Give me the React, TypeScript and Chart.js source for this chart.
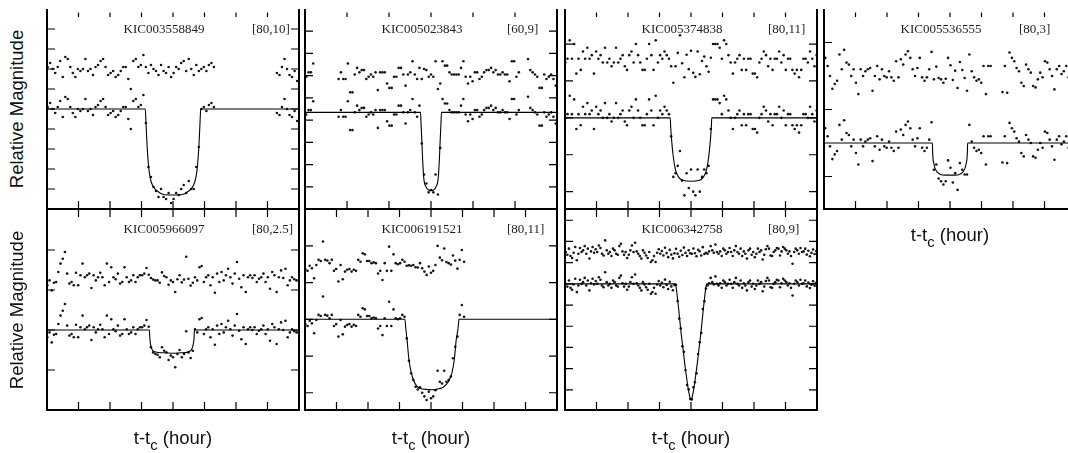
import React, { useEffect, useRef } from "react";
import { Chart, registerables } from "chart.js";
Chart.register(...registerables);

// ---------------- Panel 1 : KIC003558849 ----------------
const P1_NAME = "KIC003558849";
const P1_TAG = "[80,10]";
const P1_T0 = -3.98;
const P1_DT = 0.08;
const P1_FLUX = [
  -1, -3, 0, 2, -1, -4, 4, -6, -5, -1,
  2, 4, 0, 1, 0, -5, 1, 0, 3, -1,
  -2, -4, -5, -1, 3, 2, 1, 4, 3, 1,
  -1, -1, 5, 10, -4, -5, -1, -2, -7,
  7, 29, 34, 39, 41, 44, 40, 44, 45, 42, 47, 45, 42, 43, 40, 38, 42, 36, 40, 40, 29, 19,
  0, -1, 1, -2, -3, -1,
  null, null, null, null, null, null, null, null, null, null, null, null,
  null, null, null, null, null, null, null, null, null, null, null, null,
  2, 3, -1, -5, 0, 3, 4, 1, 6,
];
const P1_RESID = [
  -1, -3, 0, 2, -1, -4, 4, -6, -5, -1,
  2, 4, 0, 1, 0, -5, 1, 0, 3, -1,
  -2, -4, -5, -1, 3, 2, 1, 4, 3, 1,
  -1, -1, 5, 10, -4, -5, -1, -2, -7,
  -1, 2, -2, 0, 1, 3, -2, 1, 2, -1, 4, 2, -1, 0, -3, -4, 1, -5, 0, 3, -2, 1,
  0, -1, 1, -2, -3, -1,
  null, null, null, null, null, null, null, null, null, null, null, null,
  null, null, null, null, null, null, null, null, null, null, null, null,
  2, 3, -1, -5, 0, 3, 4, 1, 6,
];
const P1_MODEL_T = [-4, -0.88, -0.86, -0.84, -0.82, -0.79, -0.75, -0.7, -0.62, -0.5, -0.35, -0.15, 0, 0.15, 0.35, 0.5, 0.62, 0.7, 0.75, 0.79, 0.82, 0.84, 0.86, 0.88, 4];
const P1_MODEL_Y = [0, 0, 6, 13, 19, 26, 32, 36, 39, 41, 42.5, 43, 43, 43, 42.5, 41, 39, 36, 32, 26, 19, 13, 6, 0, 0];
const P1_X_TICKS = [-3, -2, -1, 0, 1, 2, 3];
const P1_Y_TICKS = [-40, -30, -20, -10, 0, 10, 20, 30, 40];

// ---------------- Panel 2 : KIC005023843 ----------------
const P2_NAME = "KIC005023843";
const P2_TAG = "[60,9]";
const P2_T0 = -2.97;
const P2_DT = 0.055;
const P2_FLUX = [
  1, -1, -1, -5,
  null, null, null, null, null, null, null, null, null, null,
  2, -1, 2, 2, -5, 8, 8, 0, -3, -1,
  -2, -2, 2, 1, 0, 1, -1, 7, -1, -1,
  -1, 4, 6, 6, 1, 1, -3, -3, 0, 5,
  0, -1, -6, 0, 2, -3,
  14, 28, 32, 36, 35, 36, 28, 37, 16,
  -6, -4, -4, -1, 0, 0, 0, 0, -3, -6,
  1, 4, 1, 3, -1, -1, 2, 1, -1, -2,
  -2, -3, -1, -2, 0, 0, -1, 0, 0, 3,
  -6, -6, 1, -1,
  null, null, null,
  -7, -2, -1, 0, 1, 6, 6, 0, 2, 1, 0, 2, 5,
];
const P2_RESID = [
  1, -1, -1, -5,
  null, null, null, null, null, null, null, null, null, null,
  2, -1, 2, 2, -5, 8, 8, 0, -3, -1,
  -2, -2, 2, 1, 0, 1, -1, 7, -1, -1,
  -1, 4, 6, 6, 1, 1, -3, -3, 0, 5,
  0, -1, -6, 0, 2, -3,
  2, -2.5, -2, 1, 0, 1, -6, 6.5, 4,
  -6, -4, -4, -1, 0, 0, 0, 0, -3, -6,
  1, 4, 1, 3, -1, -1, 2, 1, -1, -2,
  -2, -3, -1, -2, 0, 0, -1, 0, 0, 3,
  -6, -6, 1, -1,
  null, null, null,
  -7, -2, -1, 0, 1, 6, 6, 0, 2, 1, 0, 2, 5,
];
const P2_MODEL_T = [-3, -0.25, -0.235, -0.22, -0.2, -0.17, -0.12, -0.06, 0, 0.06, 0.12, 0.17, 0.2, 0.22, 0.235, 0.25, 3];
const P2_MODEL_Y = [0, 0, 6, 12, 21, 30, 33.5, 35, 35.2, 35, 33.5, 30, 21, 12, 6, 0, 0];
const P2_X_TICKS = [-2, -1, 0, 1, 2];
const P2_Y_TICKS = [-36.5, -26.5, -16.5, -6.5, 3.5, 13.5, 23.5, 33.5];

// ---------------- Panel 3 : KIC005374838 ----------------
const P3_NAME = "KIC005374838";
const P3_TAG = "[80,11]";
const P3_T0 = -3.99;
const P3_DT = 0.07;
const P3_FLUX = [
  0, -1, -6, -1, -5, 3, -1, 2, -3, -1,
  -4, -1, -2, 3, -3, -1, -2, 0, -4, 0,
  -1, 1, 0, -4, 0, -1, -2, 1, 2, -2,
  -3, 0, -5, -2, 0, 2, 2, -1, -5, -2,
  2, -6, 0, -2, -1, -3, -2, -1,
  5, 16, 15, 13, 9, 17, 21, 15, 19, 14, 20, 21, 14, 20, 16, 14, 15, 13, 3,
  -5, -5, -5, -4, -1, -6, -5, -2, 0, 3,
  0, -1, -2, 2, -1, 2, -1, -1, 3, 3,
  4, 0, -1, -3, -2, 1, -1, 2, -1, -1,
  -3, 0, -2, 2, -1, -1, 2, 3, 2, 4,
  2, -1, -1, 0, -3, -1, 1, -2,
];
const P3_RESID = [
  0, -1, -6, -1, -5, 3, -1, 2, -3, -1,
  -4, -1, -2, 3, -3, -1, -2, 0, -4, 0,
  -1, 1, 0, -4, 0, -1, -2, 1, 2, -2,
  -3, 0, -5, -2, 0, 2, 2, -1, -5, -2,
  2, -6, 0, -2, -1, -3, -2, -1,
  1, 5.5, 1, -2.6, -7.4, 0.2, 4, -2.1, 1.8, -3.2, 2.8, 3.9, -3, 3.2, -0.4, -1.6, 1, 2.5, -1.3,
  -5, -5, -5, -4, -1, -6, -5, -2, 0, 3,
  0, -1, -2, 2, -1, 2, -1, -1, 3, 3,
  4, 0, -1, -3, -2, 1, -1, 2, -1, -1,
  -3, 0, -2, 2, -1, -1, 2, 3, 2, 4,
  2, -1, -1, 0, -3, -1, 1, -2,
];
const P3_MODEL_T = [-4, -0.66, -0.645, -0.62, -0.57, -0.5, -0.4, -0.24, 0, 0.24, 0.4, 0.5, 0.57, 0.62, 0.645, 0.66, 4];
const P3_MODEL_Y = [0, 0, 2.5, 5.5, 10, 13.8, 16, 17, 17.2, 17, 16, 13.8, 10, 5.5, 2.5, 0, 0];
const P3_X_TICKS = [-3, -2, -1, 0, 1, 2, 3];
const P3_Y_TICKS = [-20, -10, 0, 10, 20];

// ---------------- Panel 4 : KIC005536555 ----------------
const P4_NAME = "KIC005536555";
const P4_TAG = "[80,3]";
const P4_T0 = -3.96;
const P4_DT = 0.075;
const P4_FLUX = [
  -2.2, -1, 0.5, 2.4, 1.7, 1.2, -2.7, -0.5, -3.4, -1.5,
  -1.2, 0.5, -0.5, 1.5, 3.2, -0.5, 0.5, -0.2, -0.5, -0.7,
  2.7, 0.5, -1, 1, -0.5, 0.5, 0.7, -0.2, 0.7, 1.2,
  -1.7, 0.7, -2, -1.2, -2.7, -3.2, -2.2, -0.5, 0.5, -0.7,
  -2.2, 0.7, 1.2, 0.7, -0.5, -3.1,
  4, 3.2, 5.3, 5.7, 6.2, 5.7, 2.6, 3.7, 5.9, 4.5, 7, 3, 4, 4.7, 4.7,
  -2.7, -0.2, 0.7, 1.2, 1, 1.5, -1, 3.2, -1, -1,
  null, null, null, null,
  2.9, -1, 3, -3, -2.2, -1.7, -0.7, -0.2, 1.5, 2,
  -1.2, -0.5, 0, 2, 2.2, 1, 0, 0.7, -1.7, -1.5,
  -0.5, 0.5, 2.5, -0.5, -1, 0.2, -0.2, -1, 0.7, 0, -0.5,
];
const P4_RESID = [
  -2.2, -1, 0.5, 2.4, 1.7, 1.2, -2.7, -0.5, -3.4, -1.5,
  -1.2, 0.5, -0.5, 1.5, 3.2, -0.5, 0.5, -0.2, -0.5, -0.7,
  2.7, 0.5, -1, 1, -0.5, 0.5, 0.7, -0.2, 0.7, 1.2,
  -1.7, 0.7, -2, -1.2, -2.7, -3.2, -2.2, -0.5, 0.5, -0.7,
  -2.2, 0.7, 1.2, 0.7, -0.5, -3.1,
  1, -0.9, 0.8, 1, 1.5, 0.9, -2.2, -1.1, 1.1, -0.3, 2.3, -1.6, -0.4, 0.8, 2.7,
  -2.7, -0.2, 0.7, 1.2, 1, 1.5, -1, 3.2, -1, -1,
  null, null, null, null,
  2.9, -1, 3, -3, -2.2, -1.7, -0.7, -0.2, 1.5, 2,
  -1.2, -0.5, 0, 2, 2.2, 1, 0, 0.7, -1.7, -1.5,
  -0.5, 0.5, 2.5, -0.5, -1, 0.2, -0.2, -1, 0.7, 0, -0.5,
];
const P4_MODEL_T = [-4, -0.56, -0.553, -0.54, -0.51, -0.48, -0.44, -0.4, -0.3, -0.15, 0, 0.15, 0.3, 0.4, 0.44, 0.48, 0.51, 0.54, 0.553, 0.56, 4];
const P4_MODEL_Y = [0, 0, 1.2, 2.3, 3.1, 3.7, 4.1, 4.4, 4.7, 4.8, 4.8, 4.8, 4.7, 4.4, 4.1, 3.7, 3.1, 2.3, 1.2, 0, 0];
const P4_X_TICKS = [-3, -2, -1, 0, 1, 2, 3];
const P4_Y_TICKS = [-15, -5, 5];

// ---------------- Panel 5 : KIC005966097 ----------------
const P5_NAME = "KIC005966097";
const P5_TAG = "[80,2.5]";
const P5_T0 = -3.99;
const P5_DT = 0.07;
const P5_FLUX = [
  1.8, 0.6, 3.1, 1.2, 1, -1.5, -3.6, -4.8, -6.5, -1.1,
  1.4, 1, 1.8, -1.3, 1.8, -0.7, -3.6, -0.2, -0.7, -1.1,
  2.5, -0.7, 0.6, -0.2, -1.3, -0.2, 1.8, -3.6, 1, -2.7,
  -0.2, 0.3, -1.1, 1.4, 1, -2.7, -0.2, 1, 0.6, -0.7,
  1, -0.2, -0.7, -0.7, -1.1, -2.5, -0.8,
  4.3, 5.6, 6, 6.2, 6.8, 4.3, 5.2, 5.6, 7.5, 6.4, 6.8, 9.3, 6, 5, 6.8, 6, 0.3, 5.6, 7, 5.2,
  -0.2, 0.6, -2.7, -3, 1, -0.2, -0.7, 1.8, -0.2, 3.7,
  -1.1, 1, -1.5, 0.6, -0.7, -2.3, -0.2, 1.4, -1.1, -4,
  0.2, 2.3, -0.7, 3.5, -0.2, -0.7, 0, -0.7, 1, 0.2,
  -0.2, -1.1, 1, -0.2, 2.7, -1.5, -0.7, 3.5, -0.2, -1.9,
  0, -2.3, 1.8, 0.6, -0.2, 0.3, 0.6, 0.6,
];
const P5_RESID = [
  1.8, 0.6, 3.1, 1.2, 1, -1.5, -3.6, -4.8, -6.5, -1.1,
  1.4, 1, 1.8, -1.3, 1.8, -0.7, -3.6, -0.2, -0.7, -1.1,
  2.5, -0.7, 0.6, -0.2, -1.3, -0.2, 1.8, -3.6, 1, -2.7,
  -0.2, 0.3, -1.1, 1.4, 1, -2.7, -0.2, 1, 0.6, -0.7,
  1, -0.2, -0.7, -0.7, -1.1, -2.5, -0.8,
  0, 0.4, 0.6, 0.6, 1.2, -1.4, -0.5, -0.2, 1.7, 0.6, 1, 3.5, 0.3, -0.7, 1.1, 0.4, -5.3, 0.2, 1.9, 1.2,
  -0.2, 0.6, -2.7, -3, 1, -0.2, -0.7, 1.8, -0.2, 3.7,
  -1.1, 1, -1.5, 0.6, -0.7, -2.3, -0.2, 1.4, -1.1, -4,
  0.2, 2.3, -0.7, 3.5, -0.2, -0.7, 0, -0.7, 1, 0.2,
  -0.2, -1.1, 1, -0.2, 2.7, -1.5, -0.7, 3.5, -0.2, -1.9,
  0, -2.3, 1.8, 0.6, -0.2, 0.3, 0.6, 0.6,
];
const P5_MODEL_T = [-4, -0.75, -0.74, -0.73, -0.71, -0.68, -0.64, -0.55, -0.3, -0.03, 0.25, 0.44, 0.53, 0.58, 0.62, 0.65, 0.67, 0.68, 4];
const P5_MODEL_Y = [0, 0, 1.3, 2.5, 3.7, 4.6, 5.2, 5.5, 5.7, 5.8, 5.7, 5.6, 5.3, 5.0, 4.3, 3.3, 1.8, 0, 0];
const P5_X_TICKS = [-3, -2, -1, 0, 1, 2, 3];
const P5_Y_TICKS = [-20, -10, 0, 10];

// ---------------- Panel 6 : KIC006191521 ----------------
const P6_NAME = "KIC006191521";
const P6_TAG = "[80,11]";
const P6_T0 = -3.99;
const P6_DT = 0.07;
const P6_FLUX = [
  1.3, 1.8, 0.4, 1.1, 3.8, 0.2, -1.2, -0.9, -6.2, -1.2,
  -1, -0.3, -1.2, 1.8, 1.3, 4.7, 0.2, 4.1, 2, 1.5,
  1.3, 2, 1.5, 1.8, -1.2, -0.7, -3, -2.7, -0.9, -0.9,
  -0.3, -0.5, -0.3, 2.5, 1.8, 4.3, -0.3, 1.8, -4.8, 1.8,
  -2.7, -0.3, 0, -0.3, -1.2, -0.7,
  5.2, 11.3, 14.7, 16.5, 18.4, 19.1, 18.5, 20, 21, 22, 19.7, 21.5, 21, 19.3, 14, 17, 17.5, 14, 17, 16.5, 15.6, 10.6, 7.5, 4.7,
  -1.2, -3.9, -0.7,
];
const P6_RESID = [
  1.3, 1.8, 0.4, 1.1, 3.8, 0.2, -1.2, -0.9, -6.2, -1.2,
  -1, -0.3, -1.2, 1.8, 1.3, 4.7, 0.2, 4.1, 2, 1.5,
  1.3, 2, 1.5, 1.8, -1.2, -0.7, -3, -2.7, -0.9, -0.9,
  -0.3, -0.5, -0.3, 2.5, 1.8, 4.3, -0.3, 1.8, -4.8, 1.8,
  -2.7, -0.3, 0, -0.3, -1.2, -0.7,
  0.4, 0.3, 0.4, 0.2, 0.8, 0.9, -0.3, 1.1, 2, 2.9, 0.6, 2.3, 1.8, 0.2, -5, -1.8, -1.1, -4.3, -0.6, -0.3, 0.1, -2.4, -1, 1.2,
  -1.2, -3.9, -0.7,
];
const P6_MODEL_T = [-4, -0.83, -0.8, -0.76, -0.7, -0.62, -0.52, -0.36, -0.1, 0.05, 0.2, 0.39, 0.55, 0.66, 0.74, 0.8, 0.85, 0.87, 0.89, 4];
const P6_MODEL_Y = [0, 0, 2.5, 5.6, 11, 14.7, 17.3, 18.8, 19.1, 19.2, 19.0, 18.5, 17, 14.7, 11, 5.6, 3, 1.5, 0, 0];
const P6_X_TICKS = [-3, -2, -1, 0, 1, 2, 3];
const P6_Y_TICKS = [-20, -10, 0, 10, 20];

// ---------------- Panel 7 : KIC006342758 ----------------
const P7_NAME = "KIC006342758";
const P7_TAG = "[80,9]";
const P7_T0 = -3.975;
const P7_DT = 0.05;
const P7_FLUX = [
  0, 1.3, -1.6, 1.9, 2.8, 0.3, -2.4, 3.9, 0.8, -1.9,
  0, -0.8, -2.8, 0.8, -1.6, 3.1, -0.3, -2.4, 0.3, -1.3,
  0, -3.1, -1.9, 0.8, 1.6, -5.5, -0.8, 0.8, 0, 1.9,
  -1.6, -0.8, 0.8, 1.3, -2.8, -3.9, -0.3, 1.3, 0, 2.8,
  1.3, -0.8, -3.1, 0, -4.4, -0.3, 0.8, 1.9, 3.1, -0.8,
  0.3, 1.6, 2.8, 0, 4.7, 3.9, 1.9, 4.7, 0.3, -1.3,
  0.8, -0.5, 1.6, -2, 0.5, 2.4, -1, 1.2, 3, 0.6,
  0.4, 8.1, 16.4, 21, 29.4, 32.1, 40.6, 47.7, 49.7, 54.3,
  54.5, 48.8, 46.4, 42.2, 33.1, 27.6, 23.2, 11.9, 8.2, 2.2,
  0.8, -0.3, -2.8, -0.8, 0.3, -3.5, 0, 0.8, -0.3, 1.9,
  -1.6, -0.8, 0.8, 0, -1.9, 0, 1.9, -0.8, -2.8, 0,
  0.8, -1.6, 1.9, -0.3, 0.8, 3.1, -0.8, -1.6, 1.3, 0,
  2.4, 0.8, -1.6, 0, -0.8, 3.5, 1.3, -1.3, -2.8, -1.6,
  1.6, 1.9, 0, -0.8, -1.9, -1.6, 1.6, -0.3, -2.4, -1.6,
  -0.8, 0.8, -0.3, 1.9, 5.5, 0, -1.6, -0.8, 0.8, -1.9,
  0, -0.3, -1.6, 1.2, -0.6, 2, 0.4, -1.2, 0.9, -0.5,
];
const P7_RESID = [
  0, 1.3, -1.6, 1.9, 2.8, 0.3, -2.4, 3.9, 0.8, -1.9,
  0, -0.8, -2.8, 0.8, -1.6, 3.1, -0.3, -2.4, 0.3, -1.3,
  0, -3.1, -1.9, 0.8, 1.6, -5.5, -0.8, 0.8, 0, 1.9,
  -1.6, -0.8, 0.8, 1.3, -2.8, -3.9, -0.3, 1.3, 0, 2.8,
  1.3, -0.8, -3.1, 0, -4.4, -0.3, 0.8, 1.9, 3.1, -0.8,
  0.3, 1.6, 2.8, 0, 4.7, 3.9, 1.9, 4.7, 0.3, -1.3,
  0.8, -0.5, 1.6, -2, 0.5, 2.4, -1, 1.2, 3, 0.6,
  -1.5, 0.8, 2.2, -0.6, 1.4, -2.1, 0.4, 1.9, -0.8, 0.6,
  0.8, -1.7, 0.6, 2.0, -1.1, -0.4, 1.6, -2.3, 0.9, 0.3,
  0.8, -0.3, -2.8, -0.8, 0.3, -3.5, 0, 0.8, -0.3, 1.9,
  -1.6, -0.8, 0.8, 0, -1.9, 0, 1.9, -0.8, -2.8, 0,
  0.8, -1.6, 1.9, -0.3, 0.8, 3.1, -0.8, -1.6, 1.3, 0,
  2.4, 0.8, -1.6, 0, -0.8, 3.5, 1.3, -1.3, -2.8, -1.6,
  1.6, 1.9, 0, -0.8, -1.9, -1.6, 1.6, -0.3, -2.4, -1.6,
  -0.8, 0.8, -0.3, 1.9, 5.5, 0, -1.6, -0.8, 0.8, -1.9,
  0, -0.3, -1.6, 1.2, -0.6, 2, 0.4, -1.2, 0.9, -0.5,
];
const P7_MODEL_T = [-4, -0.5, -0.46, -0.42, -0.38, -0.34, -0.3, -0.25, -0.2, -0.15, -0.1, -0.05, 0, 0.05, 0.1, 0.15, 0.2, 0.25, 0.3, 0.34, 0.38, 0.42, 0.46, 0.5, 4];
const P7_MODEL_Y = [0, 0, 3, 8, 13.5, 19.5, 25, 31, 37.5, 43, 48.5, 52.5, 54.8, 52.5, 48.5, 43, 37.5, 31, 25, 19.5, 13.5, 8, 3, 0, 0];
const P7_X_TICKS = [-3, -2, -1, 0, 1, 2, 3];
const P7_Y_TICKS = [-30, -20, -10, 0, 10, 20, 30, 40, 50];

// ---------------- layout & styling ----------------
const PAD = 4;
const TICK = 8;
const DOT = "#161616";

const PANELS = [
  { name: P1_NAME, tag: P1_TAG, t0: P1_T0, dt: P1_DT, flux: P1_FLUX, resid: P1_RESID, offset: -20, mt: P1_MODEL_T, my: P1_MODEL_Y, xt: P1_X_TICKS, yt: P1_Y_TICKS, xMin: -4, xMax: 4, yMin: -50, yMax: 50, left: 47, top: 9, w: 252, h: 200, topBorder: false, tagX: 205 },
  { name: P2_NAME, tag: P2_TAG, t0: P2_T0, dt: P2_DT, flux: P2_FLUX, resid: P2_RESID, offset: -17, mt: P2_MODEL_T, my: P2_MODEL_Y, xt: P2_X_TICKS, yt: P2_Y_TICKS, xMin: -3, xMax: 3, yMin: -46.5, yMax: 43.5, left: 305, top: 9, w: 252, h: 200, topBorder: false, tagX: 202 },
  { name: P3_NAME, tag: P3_TAG, t0: P3_T0, dt: P3_DT, flux: P3_FLUX, resid: P3_RESID, offset: -15, mt: P3_MODEL_T, my: P3_MODEL_Y, xt: P3_X_TICKS, yt: P3_Y_TICKS, xMin: -4, xMax: 4, yMin: -29.5, yMax: 24.7, left: 565, top: 9, w: 252, h: 200, topBorder: false, tagX: 203 },
  { name: P4_NAME, tag: P4_TAG, t0: P4_T0, dt: P4_DT, flux: P4_FLUX, resid: P4_RESID, offset: -10.5, mt: P4_MODEL_T, my: P4_MODEL_Y, xt: P4_X_TICKS, yt: P4_Y_TICKS, xMin: -4, xMax: 4, yMin: -20, yMax: 9.85, left: 824, top: 9, w: 252, h: 200, topBorder: false, tagX: 195 },
  { name: P5_NAME, tag: P5_TAG, t0: P5_T0, dt: P5_DT, flux: P5_FLUX, resid: P5_RESID, offset: -13, mt: P5_MODEL_T, my: P5_MODEL_Y, xt: P5_X_TICKS, yt: P5_Y_TICKS, xMin: -4, xMax: 4, yMin: -30.25, yMax: 20, left: 47, top: 209, w: 252, h: 201, topBorder: true, tagX: 205 },
  { name: P6_NAME, tag: P6_TAG, t0: P6_T0, dt: P6_DT, flux: P6_FLUX, resid: P6_RESID, offset: -15, mt: P6_MODEL_T, my: P6_MODEL_Y, xt: P6_X_TICKS, yt: P6_Y_TICKS, xMin: -4, xMax: 4, yMin: -30.05, yMax: 24.7, left: 305, top: 209, w: 252, h: 201, topBorder: true, tagX: 202 },
  { name: P7_NAME, tag: P7_TAG, t0: P7_T0, dt: P7_DT, flux: P7_FLUX, resid: P7_RESID, offset: -15, mt: P7_MODEL_T, my: P7_MODEL_Y, xt: P7_X_TICKS, yt: P7_Y_TICKS, xMin: -4, xMax: 4, yMin: -35.3, yMax: 59.5, left: 565, top: 209, w: 252, h: 201, topBorder: true, tagX: 203 },
];

const Y_TITLES = [
  { cx: 16.5, cy: 109 },
  { cx: 16.5, cy: 310 },
];
const X_TITLES = [
  { cx: 950, base: 242 },
  { cx: 173, base: 445 },
  { cx: 431, base: 445 },
  { cx: 691, base: 445 },
];

function makeFrame(cfg: any) {
  return {
    id: "frame",
    afterDraw(chart: any) {
      const { ctx, chartArea: a, scales } = chart;
      const xs = scales.x;
      const ys = scales.y;
      ctx.save();
      ctx.strokeStyle = "#000";
      ctx.lineWidth = 1.2;
      ctx.beginPath();
      for (const v of cfg.xt) {
        const px = xs.getPixelForValue(v);
        ctx.moveTo(px, a.bottom);
        ctx.lineTo(px, a.bottom - TICK);
        ctx.moveTo(px, a.top + (cfg.topBorder ? 0 : 3.5));
        ctx.lineTo(px, a.top + TICK);
      }
      for (const v of cfg.yt) {
        const py = ys.getPixelForValue(v);
        ctx.moveTo(a.left, py);
        ctx.lineTo(a.left + TICK, py);
        ctx.moveTo(a.right, py);
        ctx.lineTo(a.right - TICK, py);
      }
      ctx.stroke();
      ctx.lineWidth = 2;
      ctx.beginPath();
      ctx.moveTo(a.left, a.top);
      ctx.lineTo(a.left, a.bottom);
      ctx.lineTo(a.right, a.bottom);
      ctx.lineTo(a.right, a.top);
      if (cfg.topBorder) ctx.closePath();
      ctx.stroke();
      ctx.fillStyle = "#1e1e1e";
      ctx.font = '13px "Liberation Serif", "Times New Roman", serif';
      ctx.textBaseline = "alphabetic";
      ctx.textAlign = "left";
      ctx.fillText(cfg.name, a.left + 76.5, a.top + 24);
      ctx.fillText(cfg.tag, a.left + cfg.tagX, a.top + 24);
      ctx.restore();
    },
  };
}

function Panel({ cfg }: { cfg: any }) {
  const ref = useRef<HTMLCanvasElement | null>(null);
  useEffect(() => {
    const canvas = ref.current;
    if (!canvas) return;
    const lower: any[] = [];
    const upper: any[] = [];
    cfg.flux.forEach((v: number | null, i: number) => {
      if (v !== null) lower.push({ x: cfg.t0 + i * cfg.dt, y: v });
    });
    cfg.resid.forEach((v: number | null, i: number) => {
      if (v !== null) upper.push({ x: cfg.t0 + i * cfg.dt, y: v + cfg.offset });
    });
    const model = cfg.mt.map((t: number, i: number) => ({ x: t, y: cfg.my[i] }));
    const dotStyle = {
      showLine: false,
      pointRadius: 1.3,
      pointHoverRadius: 0,
      pointBorderWidth: 0,
      pointBackgroundColor: DOT,
      borderColor: DOT,
    };
    const chart = new Chart(canvas, {
      type: "scatter",
      data: {
        datasets: [
          { data: model, showLine: true, borderColor: "#000", borderWidth: 1.1, pointRadius: 0, fill: false, cubicInterpolationMode: "monotone" },
          { data: lower, ...dotStyle },
          { data: upper, ...dotStyle },
        ],
      },
      options: {
        animation: false,
        responsive: false,
        maintainAspectRatio: false,
        events: [],
        layout: { padding: PAD },
        plugins: { legend: { display: false }, tooltip: { enabled: false }, title: { display: false } },
        scales: {
          x: { type: "linear", min: cfg.xMin, max: cfg.xMax, display: false },
          y: { type: "linear", min: cfg.yMin, max: cfg.yMax, reverse: true, display: false },
        },
      },
      plugins: [makeFrame(cfg)],
    } as any);
    return () => chart.destroy();
  }, [cfg]);
  const W = cfg.w + 2 * PAD;
  const H = cfg.h + 2 * PAD;
  return (
    <canvas
      ref={ref}
      width={W}
      height={H}
      style={{ position: "absolute", left: cfg.left - PAD, top: cfg.top - PAD, width: W, height: H }}
    />
  );
}

const SANS = '"Liberation Sans", Arial, Helvetica, sans-serif';

export default function App() {
  return (
    <div style={{ position: "absolute", left: 0, top: 0, width: 1068, height: 453, overflow: "hidden", background: "#fff" }}>
      {PANELS.map((p) => (
        <Panel key={p.name} cfg={p} />
      ))}
      {Y_TITLES.map((t, i) => (
        <div
          key={"y" + i}
          style={{
            position: "absolute",
            left: t.cx - 110,
            top: t.cy - 12,
            width: 220,
            height: 24,
            lineHeight: "24px",
            textAlign: "center",
            fontFamily: SANS,
            fontSize: 18.5,
            color: "#111",
            whiteSpace: "nowrap",
            transform: "rotate(-90deg)",
            transformOrigin: "50% 50%",
          }}
        >
          Relative Magnitude
        </div>
      ))}
      {X_TITLES.map((t, i) => (
        <div
          key={"x" + i}
          style={{
            position: "absolute",
            left: t.cx - 100,
            top: t.base - 15.66,
            width: 200,
            lineHeight: "18.5px",
            textAlign: "center",
            fontFamily: SANS,
            fontSize: 18.5,
            color: "#111",
            whiteSpace: "nowrap",
          }}
        >
          t-t<span style={{ fontSize: "0.8em", position: "relative", top: "0.38em" }}>c</span> (hour)
        </div>
      ))}
    </div>
  );
}
